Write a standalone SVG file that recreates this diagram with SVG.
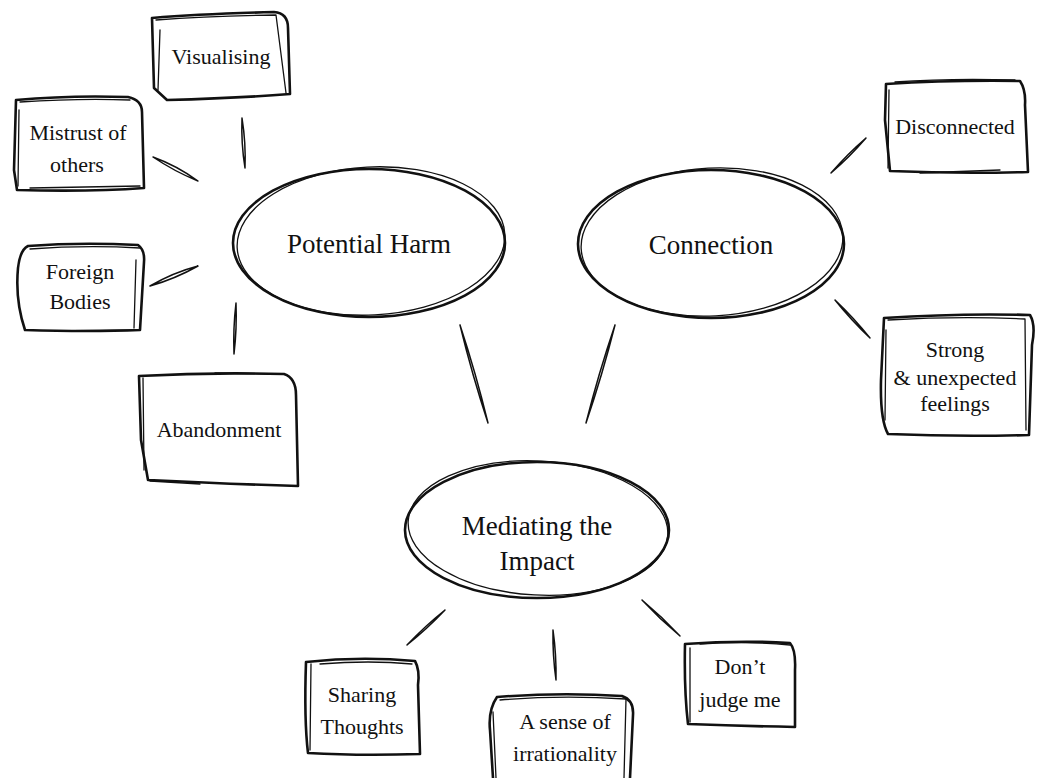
<svg xmlns="http://www.w3.org/2000/svg" width="1038" height="778" viewBox="0 0 1038 778">
<style>
.m{fill:none;stroke:#111;stroke-width:2.6;stroke-linecap:round;stroke-linejoin:round}
.s{fill:none;stroke:#111;stroke-width:1.3;stroke-linecap:round;stroke-linejoin:round}
.c{fill:none;stroke:#111;stroke-width:1.5;stroke-linecap:round;stroke-linejoin:round}
.t{font-family:"Liberation Serif",serif;font-size:22px;fill:#111;text-anchor:middle}
.e{font-family:"Liberation Serif",serif;font-size:27px;fill:#111;text-anchor:middle}
</style>
<rect width="1038" height="778" fill="#fff"/>
<g id="connectors">
<path class="c" d="M242 118 Q241 143 245 168 Q246 143 242 118 Z"/>
<path class="c" d="M153 157 Q174.5 171.5 198 181 Q176.5 165.5 153 157 Z"/>
<path class="c" d="M150 286 Q174.8 279 198 266 Q173.2 272.5 150 286 Z"/>
<path class="c" d="M236 303 Q233 328.5 234 354 Q237 328.5 236 303 Z"/>
<path class="c" d="M460 325 Q476 373.5 488 423 Q472 374.5 460 325 Z"/>
<path class="c" d="M615 325 Q602.5 374.5 586 423 Q598.5 373.5 615 325 Z"/>
<path class="c" d="M831 173 Q849.8 156.8 866 138 Q847.2 154.2 831 173 Z"/>
<path class="c" d="M835 300 Q853.8 317.8 870 338 Q851.2 320.2 835 300 Z"/>
<path class="c" d="M407 645 Q427.2 628.8 445 610 Q424.8 626.2 407 645 Z"/>
<path class="c" d="M553 630 Q552.5 655 556 680 Q556.5 655 553 630 Z"/>
<path class="c" d="M642 600 Q662.2 616.8 680 636 Q659.8 619.2 642 600 Z"/>
</g>
<g id="visualising">
<path class="m" d="M152 18 Q200 14 274 12 Q288 13 288 28 L290 94 Q240 98 167 100 L154 88 Z"/>
<path class="s" d="M156 20 Q210 16 276 15 L286 93 M158 90 L160 30"/>
<text class="t" x="221" y="64">Visualising</text>
</g>
<g id="mistrust">
<path class="m" d="M16 100 Q70 95 128 97 Q142 100 142 112 L144 188 Q90 192 17 190 L14 170 Z"/>
<path class="s" d="M20 102 Q80 98 130 100 M19 110 L18 186 M30 188 L140 186"/>
<text class="t" x="78" y="140">Mistrust of</text>
<text class="t" x="77" y="172">others</text>
</g>
<g id="foreign">
<path class="m" d="M28 246 Q80 242 138 245 Q145 250 144 262 L140 330 Q90 332 25 330 Q15 300 18 268 Q20 250 28 246 Z"/>
<path class="s" d="M30 249 Q85 245 140 248 M136 260 L134 328 M55 331 L132 330"/>
<text class="t" x="80" y="279">Foreign</text>
<text class="t" x="80" y="309">Bodies</text>
</g>
<g id="abandonment">
<path class="m" d="M139 376 Q210 372 284 374 Q296 378 296 395 L298 486 Q230 484 148 480 L141 440 Z"/>
<path class="s" d="M143 378 L144 470 M150 481 L200 484 M215 373 L270 374"/>
<text class="t" x="219" y="437">Abandonment</text>
</g>
<g id="disconnected">
<path class="m" d="M886 84 Q950 80 1020 81 Q1026 90 1025 105 L1028 172 Q960 174 890 171 L885 120 Z"/>
<path class="s" d="M889 90 L888 168 M895 82 Q950 78 1015 80 M920 173 L1000 170"/>
<text class="t" x="955" y="134">Disconnected</text>
</g>
<g id="strong">
<path class="m" d="M884 318 Q960 313 1030 315 Q1036 325 1032 345 L1029 435 Q960 437 888 434 Q880 420 881 380 Z"/>
<path class="s" d="M888 320 Q960 316 1025 319 L1026 430 M886 330 L885 420"/>
<text class="t" x="955" y="357">Strong</text>
<text class="t" x="955" y="385">&amp; unexpected</text>
<text class="t" x="955" y="411">feelings</text>
</g>
<g id="sharing">
<path class="m" d="M306 662 Q360 656 415 661 Q420 670 418 685 L420 754 Q360 756 308 753 Q304 720 306 662 Z"/>
<path class="s" d="M311 664 L310 750 M320 664 Q370 660 412 664"/>
<text class="t" x="362" y="702">Sharing</text>
<text class="t" x="362" y="734">Thoughts</text>
</g>
<g id="sense">
<path class="m" d="M497 697 Q560 692 622 696 Q634 700 633 715 L630 778 M497 697 Q488 710 490 730 L493 778"/>
<path class="s" d="M500 700 Q560 695 626 699 L624 778 M493 712 L496 778"/>
<text class="t" x="565" y="729">A sense of</text>
<text class="t" x="565" y="761">irrationality</text>
</g>
<g id="dontjudge">
<path class="m" d="M685 644 Q740 640 790 643 Q796 650 795 670 L795 727 Q740 726 688 724 Q684 690 685 644 Z"/>
<path class="s" d="M690 648 L690 722 M700 644 Q750 641 790 645"/>
<text class="t" x="740" y="674">Don’t</text>
<text class="t" x="740" y="707">judge me</text>
</g>
<g id="potential">
<ellipse class="m" cx="369" cy="243" rx="136" ry="74"/>
<ellipse class="s" cx="371" cy="241" rx="134" ry="74" transform="rotate(-3 371 241)"/>
<text class="e" x="369" y="253">Potential Harm</text>
</g>
<g id="connection">
<ellipse class="m" cx="711" cy="244" rx="133" ry="74"/>
<ellipse class="s" cx="712" cy="242" rx="131" ry="74" transform="rotate(-3 712 242)"/>
<text class="e" x="711" y="254">Connection</text>
</g>
<g id="mediating">
<ellipse class="m" cx="537" cy="530" rx="132" ry="68"/>
<ellipse class="s" cx="538" cy="528" rx="130" ry="67" transform="rotate(3 538 528)"/>
<text class="e" x="537" y="535">Mediating the</text>
<text class="e" x="537" y="570">Impact</text>
</g>
</svg>
